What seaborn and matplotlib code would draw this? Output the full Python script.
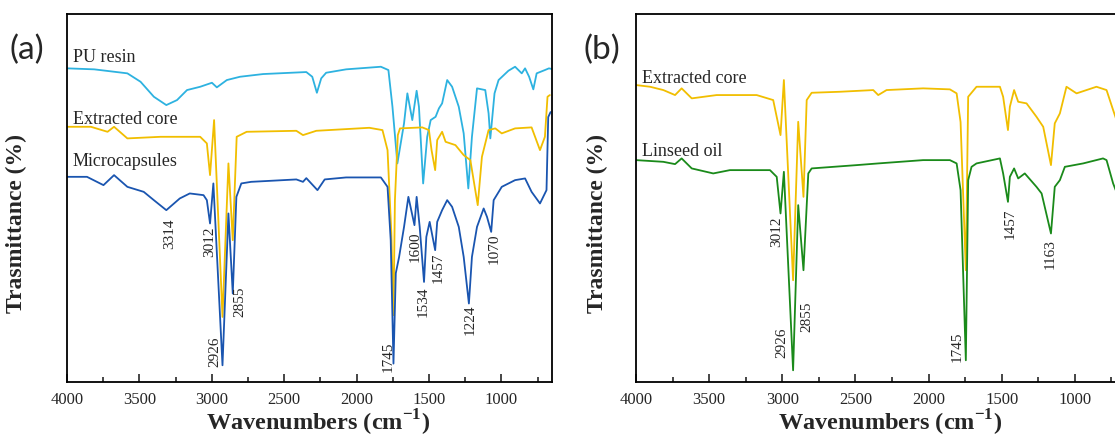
import matplotlib
matplotlib.use("Agg")
import numpy as np
import pandas as pd
import matplotlib.pyplot as plt
import seaborn as sns
from matplotlib.ticker import MultipleLocator

# ---------------- data (y in arbitrary transmittance units) -------------
pu_wn = [4000, 3812, 3583, 3492, 3400, 3314, 3240, 3171, 3080, 2999, 2965, 2896, 2805, 2645, 2347,
         2306, 2274, 2244, 2210, 2072, 1832, 1780, 1752, 1718, 1672, 1649, 1615, 1585, 1569, 1540,
         1512, 1488, 1454, 1431, 1409, 1374, 1340, 1294, 1260, 1228, 1203, 1168, 1111, 1088, 1076,
         1047, 1019, 951, 905, 859, 836, 808, 779, 756, 699, 671, 650]
pu_t = [313.7, 312.7, 308.7, 300.3, 285.3, 277, 282, 292, 295.3, 299.3, 294.7, 302, 305.3, 308, 310,
        305.3, 289.3, 303.7, 309.3, 312.7, 315.3, 312, 275.3, 218.7, 258.7, 288.7, 262, 291.3, 275.3, 198.7,
        245.3, 262, 265.3, 273.7, 278.7, 302, 295.3, 275.3, 248.7, 193.7, 245.3, 293.7, 292, 268.7, 243.7,
        288.7, 302, 311.3, 315.3, 308.7, 313.7, 305.3, 292.7, 308.7, 312, 313.7, 313]

coreA_wn = [4000, 3835, 3720, 3675, 3583, 3354, 3080, 3034, 3012, 2984, 2926, 2885, 2855, 2828, 2759,
            2416, 2370, 2278, 1912, 1821, 1786, 1760, 1745, 1735, 1715, 1700, 1546, 1500, 1482, 1457,
            1443, 1409, 1385, 1317, 1260, 1214, 1163, 1134, 1088, 1042, 997, 905, 791, 733, 699, 681, 665]
coreA_t = [255.3, 255.3, 250.3, 255.3, 243.7, 245.3, 245.3, 238.7, 207, 262, 65.3, 218.7, 142, 245.3, 250.3,
           251.3, 247, 251.3, 254.3, 252, 232, 150, 67, 182, 247, 253.7, 254.7, 252, 232, 212,
           242, 250.3, 240.3, 237, 227, 222, 177, 225.3, 252, 253.7, 248.7, 253.7, 254.7, 232, 245.3, 285.3, 287]

micro_wn = [4000, 3862, 3748, 3675, 3583, 3470, 3400, 3314, 3221, 3152, 3057, 3034, 3012, 2989, 2926,
            2885, 2855, 2830, 2796, 2728, 2416, 2370, 2347, 2270, 2220, 2072, 1832, 1786, 1764, 1745,
            1729, 1706, 1672, 1642, 1600, 1585, 1564, 1534, 1518, 1495, 1457, 1443, 1409, 1374, 1340,
            1294, 1260, 1224, 1203, 1168, 1122, 1099, 1070, 1053, 997, 905, 836, 791, 733, 688, 676, 660]
micro_t = [205.3, 205.3, 197, 207, 195.3, 190.3, 182, 172, 183.7, 188.7, 187, 182, 158.7, 198.7, 17,
           168.7, 88.7, 185.3, 198.7, 200.3, 202.7, 200.3, 204, 192, 202.7, 204.7, 204.7, 195.3, 142, 18.7,
           109, 125.3, 155.3, 185.3, 157, 185.3, 155.3, 100.3, 145.3, 160.3, 132, 160.3, 172, 182, 175.3,
           155.3, 125.3, 78.7, 125.3, 155.3, 173.7, 165.3, 150.3, 182, 195.3, 202, 203.7, 190.3, 178.7, 192, 265, 270]

coreB_wn = [4000, 3904, 3813, 3733, 3688, 3619, 3449, 3175, 3062, 3012, 2989, 2926, 2891, 2855, 2833,
            2799, 2606, 2378, 2344, 2287, 2037, 1854, 1808, 1781, 1745, 1729, 1672, 1512, 1490, 1457,
            1444, 1415, 1387, 1330, 1262, 1216, 1163, 1137, 1102, 1057, 988, 852, 783, 738, 715]
coreB_t = [297, 295.3, 292, 287, 293.7, 283.7, 287, 287, 282, 247, 302, 102, 260.3, 185.3, 282,
           289.3, 290.3, 292, 287, 292, 293.7, 292.7, 288.7, 260, 112, 285.3, 295.3, 295.3, 285.3, 252,
           275.3, 292, 280.3, 278.7, 265.3, 255.3, 217, 258.7, 268.7, 295.3, 288.7, 295.3, 292, 272, 262]

oil_wn = [4000, 3813, 3733, 3688, 3619, 3472, 3358, 3084, 3038, 3012, 2989, 2926, 2891, 2855, 2822,
          2799, 2492, 2344, 2037, 1854, 1808, 1781, 1745, 1729, 1706, 1672, 1512, 1490, 1457, 1444,
          1415, 1387, 1342, 1262, 1227, 1163, 1137, 1102, 1068, 943, 807, 783, 738, 715]
oil_t = [222, 220.3, 218, 223.7, 213.7, 208.7, 212, 212, 205.3, 168.7, 210.3, 12, 177, 112, 208.7,
         213.7, 217, 218.7, 222, 222, 218.7, 192, 22, 202, 215.3, 218.7, 223.7, 208.7, 180.3, 205.3,
         213.7, 203.7, 208.7, 195.3, 188.7, 148.7, 195.3, 202, 215.3, 218.7, 223.7, 222, 198.7, 190]

seriesA = ["PU resin", "Extracted core", "Microcapsules"]
seriesB = ["Extracted core", "Linseed oil"]
colors = {"PU resin": "#2DB2E0", "Extracted core": "#F1BE00",
          "Microcapsules": "#1A55B0", "Linseed oil": "#1A8A1A"}

# peak annotations: label, x position (cm-1), y position
peaksA_lab = ["3314", "3012", "2926", "2855", "1745", "1600", "1534", "1457", "1224", "1070"]
peaksA_x = [3289, 3012, 2978, 2805, 1781, 1597, 1539, 1436, 1217, 1049]
peaksA_y = [148, 140, 31, 80, 26, 135, 80, 114, 62, 133]
peaksB_lab = ["3012", "2926", "2855", "1745", "1457", "1163"]
peaksB_x = [3038, 3004, 2833, 1804, 1444, 1171]
peaksB_y = [150, 40, 65, 36, 158, 128]

# series name labels: text, x (cm-1), baseline y
namesA = ["PU resin", "Extracted core", "Microcapsules"]
namesA_y = [320, 258, 216]
namesB = ["Extracted core", "Linseed oil"]
namesB_y = [299, 226]

dfA = pd.concat([
    pd.DataFrame({"wn": pu_wn, "T": pu_t, "sample": "PU resin"}),
    pd.DataFrame({"wn": coreA_wn, "T": coreA_t, "sample": "Extracted core"}),
    pd.DataFrame({"wn": micro_wn, "T": micro_t, "sample": "Microcapsules"}),
], ignore_index=True)
dfB = pd.concat([
    pd.DataFrame({"wn": coreB_wn, "T": coreB_t, "sample": "Extracted core"}),
    pd.DataFrame({"wn": oil_wn, "T": oil_t, "sample": "Linseed oil"}),
], ignore_index=True)

# ---------------- style ----------------
sns.set_theme(style="ticks")
plt.rcParams['font.family'] = ['Liberation Serif', 'DejaVu Serif']
plt.rcParams['mathtext.fontset'] = 'custom'
plt.rcParams['mathtext.rm'] = 'Liberation Serif:bold'
plt.rcParams['mathtext.bf'] = 'Liberation Serif:bold'

W, H = 1115, 436
fig = plt.figure(figsize=(W / 100, H / 100), dpi=100)
bottom = 1 - 382.3 / H
height = (382.3 - 14) / H
axA = fig.add_axes([67 / W, bottom, 485 / W, height])
axB = fig.add_axes([636 / W, bottom, 490 / W, height])

sns.lineplot(data=dfA, x="wn", y="T", hue="sample", hue_order=seriesA, palette=colors,
             sort=False, estimator=None, legend=False, lw=1.3, ax=axA)
sns.lineplot(data=dfB, x="wn", y="T", hue="sample", hue_order=seriesB, palette=colors,
             sort=False, estimator=None, legend=False, lw=1.3, ax=axB)

for ax, xlab_x, ylab_x in [(axA, 0.517, -0.083), (axB, 0.518, -0.058)]:
    ax.set_xlim(4000, 650)
    ax.set_ylim(0, 368)
    ax.set_yticks([])
    ax.xaxis.set_major_locator(MultipleLocator(500))
    ax.xaxis.set_minor_locator(MultipleLocator(250))
    ax.tick_params(axis='x', which='major', direction='in', length=6, width=1.2,
                   labelsize=12, pad=7, top=False)
    ax.tick_params(axis='x', which='minor', direction='in', length=3.5, width=1.2, top=False)
    for s in ax.spines.values():
        s.set_linewidth(1.3)
        s.set_color('black')
    ax.set_xlabel("Wavenumbers (cm$^{\\mathrm{-1}}$)", fontsize=17.5, fontweight='bold', labelpad=0)
    ax.xaxis.set_label_coords(xlab_x, -0.068)
    ax.set_ylabel("Trasmittance (%)", fontsize=17, fontweight='bold')
    ax.yaxis.set_label_coords(ylab_x, 0.43)

for lab, x, y in zip(peaksA_lab, peaksA_x, peaksA_y):
    axA.text(x, y, lab, rotation=90, ha='center', va='center', fontsize=11)
for lab, x, y in zip(peaksB_lab, peaksB_x, peaksB_y):
    axB.text(x, y, lab, rotation=90, ha='center', va='center', fontsize=11)

for name, y in zip(namesA, namesA_y):
    axA.text(3959, y, name, ha='left', va='baseline', fontsize=13)
for name, y in zip(namesB, namesB_y):
    axB.text(3959, y, name, ha='left', va='baseline', fontsize=13)

fig.text(27 / W, 1 - 50 / H, "(a)", ha='center', va='center', fontsize=24, family=['Lato', 'DejaVu Sans'])
fig.text(602 / W, 1 - 50 / H, "(b)", ha='center', va='center', fontsize=24, family=['Lato', 'DejaVu Sans'])

fig.savefig("out.png", dpi=100)
